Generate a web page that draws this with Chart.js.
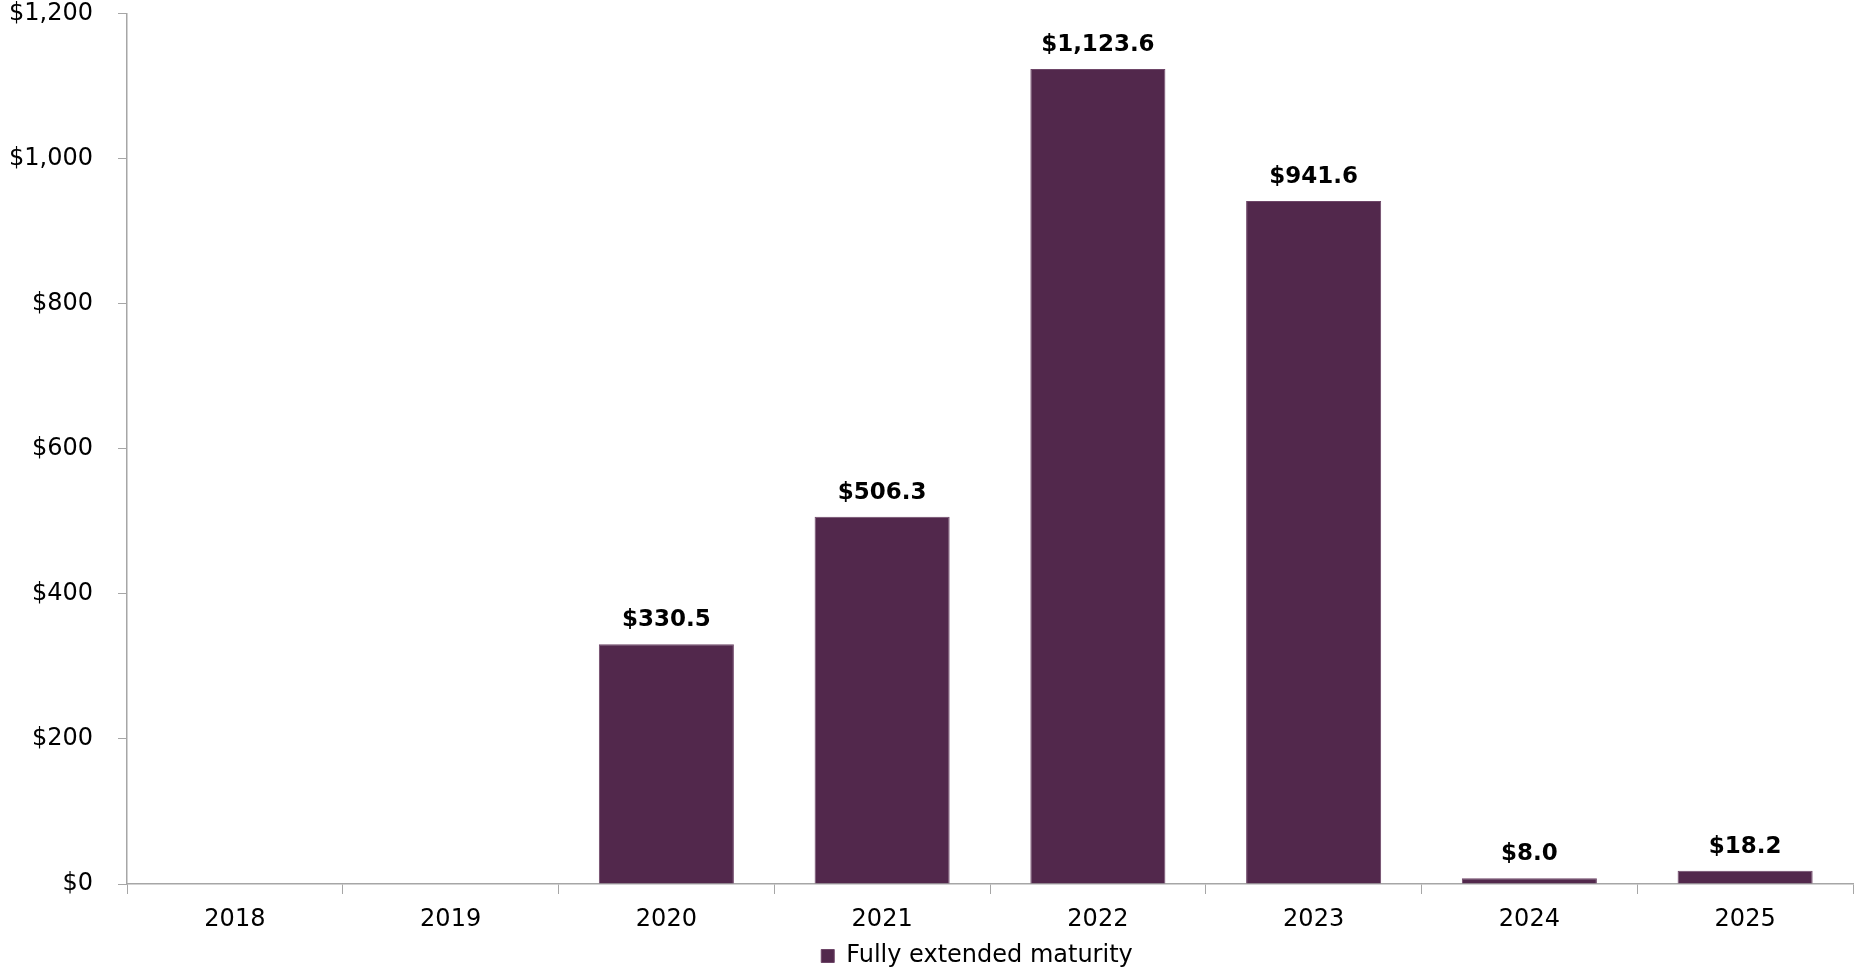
<!DOCTYPE html>
<html>
<head>
<meta charset="utf-8">
<script src="https://cdn.jsdelivr.net/npm/chart.js@4/dist/chart.umd.min.js"></script>
<style>
  body { margin: 0; background: #fff; }
  #wrap { width: 1854px; height: 969px; }
</style>
</head>
<body>
<div id="wrap"><canvas id="maturity-chart"></canvas></div>
<script>
const years = ["2018", "2019", "2020", "2021", "2022", "2023", "2024", "2025"];
const maturityValues = [null, null, 330.5, 506.3, 1123.6, 941.6, 8.0, 18.2];
const yTicks = [0, 200, 400, 600, 800, 1000, 1200];

const BAR_COLOR = "rgb(82,40,76)";
const AXIS_COLOR = "#a6a6a6";
const FONT = "'DejaVu Sans', Verdana, sans-serif";

const money = (v, digits) =>
  "$" + v.toLocaleString("en-US", { minimumFractionDigits: digits, maximumFractionDigits: digits });

// value labels above each bar
const barLabels = {
  id: "barLabels",
  afterLayout(chart) {
    // legend sits a bit left of the plot centre in the original
    chart.legend.right -= 26;
  },
  afterDatasetsDraw(chart) {
    const ctx = chart.ctx;
    const meta = chart.getDatasetMeta(0);
    ctx.save();
    ctx.font = "bold 23px " + FONT;
    ctx.fillStyle = "#000";
    ctx.textAlign = "center";
    ctx.textBaseline = "middle";
    meta.data.forEach((bar, i) => {
      const v = maturityValues[i];
      if (v === null) return;
      ctx.fillText(money(v, 1), bar.x, bar.y - 24);
    });
    ctx.restore();
  },
};

const ctx = document.getElementById("maturity-chart").getContext("2d");
const chart = new Chart(ctx, {
  type: "bar",
  data: {
    labels: years,
    datasets: [
      {
        label: "Fully extended maturity",
        data: maturityValues,
        backgroundColor: BAR_COLOR,
        borderColor: "rgb(110,70,104)",
        borderWidth: 1,
        barPercentage: 0.626,
        categoryPercentage: 1,
      },
    ],
  },
  options: {
    responsive: true,
    maintainAspectRatio: false,
    animation: false,
    layout: { padding: { left: 0, right: 1, top: 0, bottom: -9 } },
    plugins: {
      tooltip: { enabled: false },
      legend: {
        position: "bottom",
        fullSize: false,
        labels: {
          boxWidth: 13,
          boxHeight: 13,
          padding: 1,
          color: "#000",
          font: { family: FONT, size: 24 },
        },
      },
    },
    scales: {
      x: {
        grid: {
          display: true,
          drawOnChartArea: false,
          drawTicks: true,
          tickLength: 10,
          color: AXIS_COLOR,
        },
        border: { color: AXIS_COLOR, width: 1.5 },
        ticks: {
          color: "#000",
          padding: 11,
          font: { family: FONT, size: 24 },
        },
        afterFit: (axis) => {
          axis.height = 59;
          axis.paddingLeft = 0;
          axis.paddingRight = 0;
        },
      },
      y: {
        min: 0,
        max: 1200,
        afterBuildTicks: (axis) => {
          axis.ticks = yTicks.map((v) => ({ value: v }));
        },
        grid: {
          display: true,
          drawOnChartArea: false,
          drawTicks: true,
          tickLength: 9,
          color: AXIS_COLOR,
        },
        border: { color: AXIS_COLOR, width: 1.5 },
        ticks: {
          color: "#000",
          padding: 25,
          font: { family: FONT, size: 24 },
          callback: (v) => money(v, 0),
        },
        afterFit: (axis) => {
          axis.width = 127;
          axis.paddingTop = 13.5;
          axis.paddingBottom = 0;
        },
      },
    },
  },
  plugins: [barLabels],
});
</script>
</body>
</html>
